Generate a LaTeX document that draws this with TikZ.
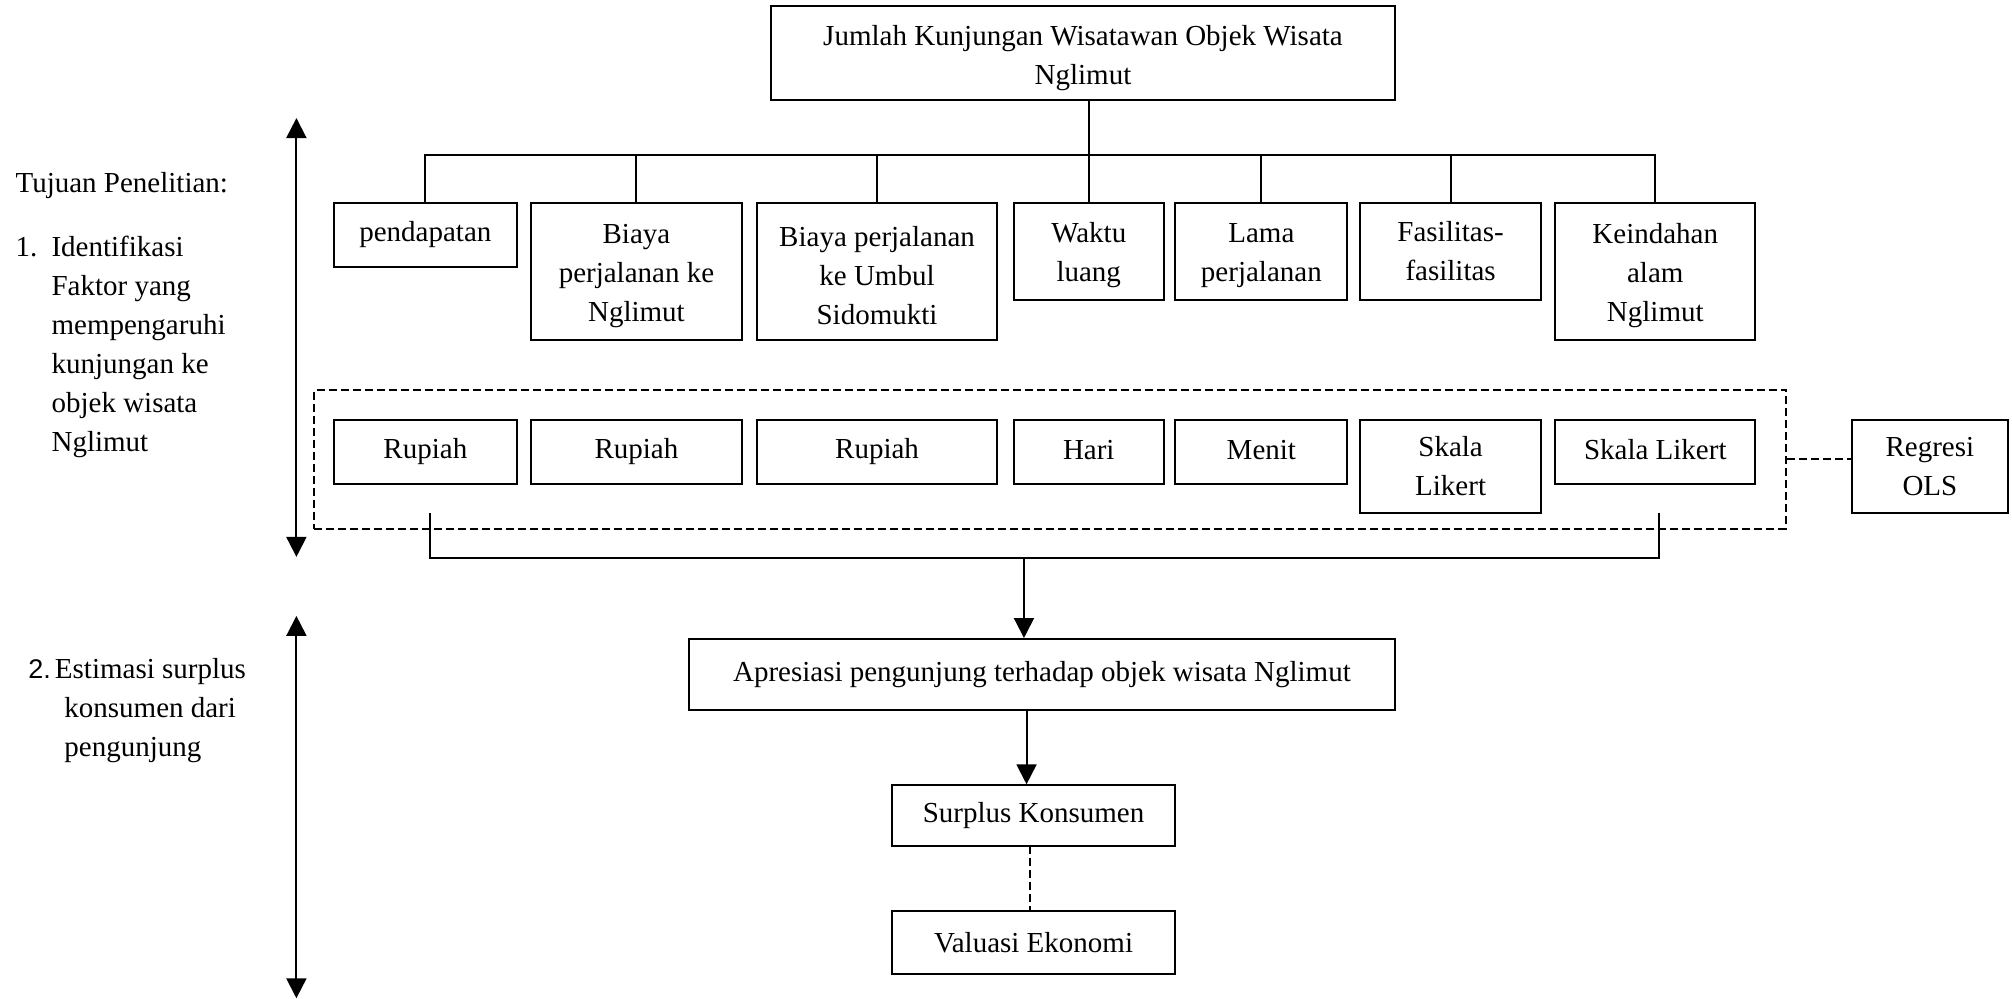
\documentclass[tikz,border=0pt]{standalone}
\usepackage{fontspec}
\setmainfont{Liberation Serif}
\newfontfamily\numsans{Liberation Sans}
\usetikzlibrary{arrows.meta}
\begin{document}
\begin{tikzpicture}[x=1.2832pt,y=-1.2832pt,
  txt/.style={font=\fontsize{29}{39}\selectfont},
  box/.style={draw, line width=2pt, align=center, inner sep=0pt, txt},
  dbox/.style={draw, line width=2pt, dash pattern=on 8pt off 4pt, inner sep=0pt},
  conn/.style={line width=2pt},
  dconn/.style={line width=2pt, dash pattern=on 8pt off 4pt},
  arr/.style={line width=2pt, -{Triangle[length=20pt,width=20pt]}},
  dbl/.style={line width=2pt, {Triangle[length=20pt,width=20pt]}-{Triangle[length=20pt,width=20pt]}}]
\useasboundingbox (0,0) rectangle (1568,778);

% top box
\node[box, minimum width=623.6pt, minimum height=93.7pt] (top) at (844,41.5) {\rule{0pt}{30pt}Jumlah Kunjungan Wisatawan Objek Wisata\\Nglimut};

% first row
\node[box, minimum width=183.5pt, minimum height=64.2pt] (pend) at (331.5,183) {pendapatan};
\node[box, minimum width=210.4pt, minimum height=137.3pt] (bia1) at (496,211.5) {\rule{0pt}{28pt}Biaya\\perjalanan ke\\Nglimut};
\node[box, minimum width=240pt, minimum height=137.3pt] (bia2) at (683.5,211.5) {\rule{0pt}{28pt}Biaya perjalanan\\ke Umbul\\Sidomukti};
\node[box, minimum width=150.1pt, minimum height=97.5pt] (wak) at (848.5,196) {\rule{0pt}{28pt}Waktu\\luang};
\node[box, minimum width=172pt, minimum height=97.5pt] (lama) at (983,196) {\rule{0pt}{28pt}Lama\\perjalanan};
\node[box, minimum width=181pt, minimum height=97.5pt] (fas) at (1130.5,196) {Fasilitas-\\fasilitas};
\node[box, minimum width=200.2pt, minimum height=137.3pt] (kei) at (1290,211.5) {\rule{0pt}{28pt}Keindahan\\alam\\Nglimut};

% tree connectors
\coordinate (bus) at (850,121);
\draw[conn] (wak.north) -- (wak.north |- top.south);
\draw[conn] (pend.north) -- (pend.north |- bus) -- (kei.north |- bus) -- (kei.north);
\draw[conn] (bia1.north) -- (bia1.north |- bus);
\draw[conn] (bia2.north) -- (bia2.north |- bus);
\draw[conn] (lama.north) -- (lama.north |- bus);
\draw[conn] (fas.north) -- (fas.north |- bus);

% dashed group
\node[dbox, minimum width=1471.8pt, minimum height=138.6pt] (grp) at (818.5,358) {};

% second row
\node[box, minimum width=183.5pt, minimum height=64.2pt] (rup1) at (331.5,352) {Rupiah};
\node[box, minimum width=210.4pt, minimum height=64.2pt] (rup2) at (496,352) {Rupiah};
\node[box, minimum width=240pt, minimum height=64.2pt] (rup3) at (683.5,352) {Rupiah};
\node[box, minimum width=150.1pt, minimum height=64.2pt] (hari) at (848.5,352) {Hari\strut};
\node[box, minimum width=172pt, minimum height=64.2pt] (menit) at (983,352) {Menit\strut};
\node[box, minimum width=181pt, minimum height=93.7pt] (sk1) at (1130.5,363.5) {Skala\\Likert};
\node[box, minimum width=200.2pt, minimum height=64.2pt] (sk2) at (1290,352) {Skala Likert\strut};
\node[box, minimum width=156.6pt, minimum height=93.7pt] (reg) at (1504,363.5) {Regresi\\OLS};

\draw[dconn] (grp.east) -- (grp.east -| reg.west);

% bracket
\coordinate (bl) at (335,400);
\coordinate (br) at (1293,400);
\coordinate (bm) at (798,435);
\draw[conn] (bl) -- (bl |- bm) -- (br |- bm) -- (br);

% lower chain
\node[box, minimum width=705.8pt, minimum height=70.6pt] (apr) at (812,525.5) {Apresiasi pengunjung terhadap objek wisata Nglimut};
\node[box, minimum width=283.6pt, minimum height=60.3pt] (sur) at (805.5,635.5) {Surplus Konsumen};
\node[box, minimum width=283.6pt, minimum height=62.9pt] (val) at (805.5,734.5) {Valuasi Ekonomi};

\draw[arr] (bm) -- (bm |- apr.north);
\coordinate (c2) at (800,553);
\draw[arr] (c2) -- (c2 |- sur.north);
\coordinate (c3) at (803,659);
\draw[dconn] (c3) -- (c3 |- val.north);

% left side
\coordinate (a1t) at (231,92);
\coordinate (a1b) at (231,434);
\draw[dbl] (a1t) -- (a1b);
\coordinate (a2t) at (231,480);
\coordinate (a2b) at (231,778);
\draw[dbl] (a2t) -- (a2b);

\node[txt, anchor=base west, inner sep=0pt] (tuj) at (12,149.8) {Tujuan Penelitian:};
\node[txt, anchor=base west, inner sep=0pt] (obj1) at (12,199.8) {\begin{tabular}[t]{@{}p{36pt}@{}l@{}}
1. & Identifikasi\\
 & Faktor yang\\
 & mempengaruhi\\
 & kunjungan ke\\
 & objek wisata\\
 & Nglimut
\end{tabular}};
\node[txt, anchor=base west, inner sep=0pt] (obj2) at (22,528.8) {\begin{tabular}[t]{@{}l@{}}
{\numsans\fontsize{27}{39}\selectfont 2.}\hspace{4pt}Estimasi surplus\\
\hspace*{36pt}konsumen dari\\
\hspace*{36pt}pengunjung
\end{tabular}};
\end{tikzpicture}
\end{document}
